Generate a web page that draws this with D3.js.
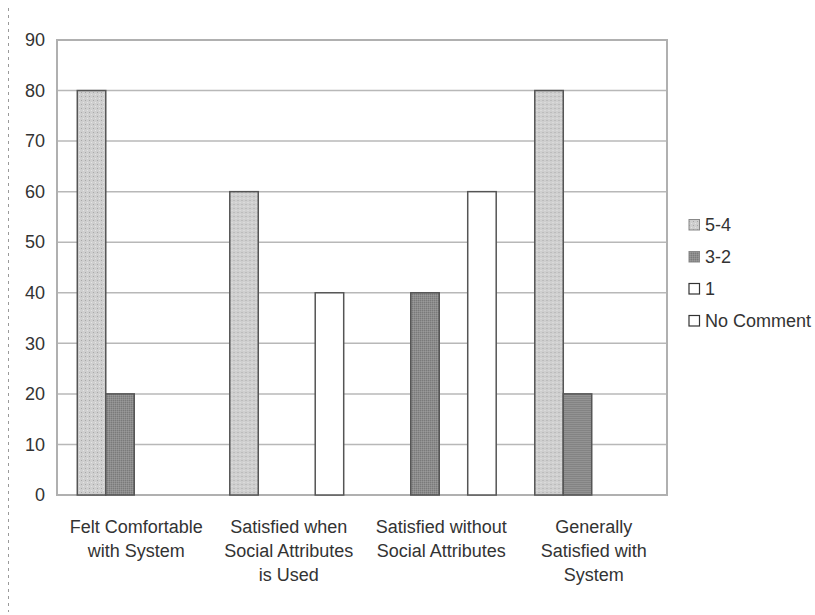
<!DOCTYPE html>
<html>
<head>
<meta charset="utf-8">
<script src="https://cdn.jsdelivr.net/npm/d3@7"></script>
<style>
  html, body { margin: 0; padding: 0; background: #ffffff; }
  svg { display: block; font-family: "Liberation Sans", Arial, sans-serif; }
</style>
</head>
<body>
<svg id="chart" width="815" height="615"></svg>
<script>
// Survey responses per question, grouped by rating bucket
const categories = [
  ["Felt Comfortable", "with System"],
  ["Satisfied when", "Social Attributes", "is Used"],
  ["Satisfied without", "Social Attributes"],
  ["Generally", "Satisfied with", "System"]
];
const seriesNames = ["5-4", "3-2", "1", "No Comment"];
const values54 = [80, 60, 0, 80];
const values32 = [20, 0, 40, 20];
const values1 = [0, 0, 0, 0];
const valuesNoComment = [0, 40, 60, 0];
const yTicks = [0, 10, 20, 30, 40, 50, 60, 70, 80, 90];

const seriesValues = [values54, values32, values1, valuesNoComment];
const fills = ["url(#pat54)", "url(#pat32)", "#ffffff", "#ffffff"];

const svg = d3.select("#chart");
const plot = { left: 57, top: 40, right: 667, bottom: 495 };
const textColor = "#333333";

// Stippled fills for the shaded series
const defs = svg.append("defs");
const p1 = defs.append("pattern").attr("id", "pat54")
  .attr("width", 4).attr("height", 4).attr("patternUnits", "userSpaceOnUse");
p1.append("rect").attr("width", 4).attr("height", 4).attr("fill", "#cfcfcf");
p1.append("rect").attr("x", 0).attr("y", 0).attr("width", 1).attr("height", 1).attr("fill", "#a8a8a8");
p1.append("rect").attr("x", 2).attr("y", 2).attr("width", 1).attr("height", 1).attr("fill", "#e4e4e4");
const p2 = defs.append("pattern").attr("id", "pat32")
  .attr("width", 2).attr("height", 2).attr("patternUnits", "userSpaceOnUse");
p2.append("rect").attr("width", 2).attr("height", 2).attr("fill", "#8c8c8c");
p2.append("rect").attr("x", 0).attr("y", 0).attr("width", 1).attr("height", 1).attr("fill", "#7a7a7a");
p2.append("rect").attr("x", 1).attr("y", 1).attr("width", 1).attr("height", 1).attr("fill", "#999999");

// Dashed frame edge on the far left
svg.append("line")
  .attr("x1", 8.5).attr("x2", 8.5).attr("y1", 8).attr("y2", 612)
  .attr("stroke", "#9a9a9a").attr("stroke-width", 1)
  .attr("stroke-dasharray", "3,4");

const y = d3.scaleLinear().domain([0, 90]).range([plot.bottom, plot.top]);
const x0 = d3.scaleBand().domain(d3.range(categories.length))
  .range([plot.left, plot.right]).padding(0);
const bw = x0.bandwidth();
const x1 = d3.scaleBand().domain(d3.range(seriesNames.length))
  .range([bw * 0.133, bw * 0.88]).padding(0);

// Gridlines
svg.append("g")
  .selectAll("line")
  .data(yTicks.filter(d => d > 0 && d < 90))
  .join("line")
  .attr("x1", plot.left).attr("x2", plot.right)
  .attr("y1", d => y(d)).attr("y2", d => y(d))
  .attr("stroke", "#b8b8b8").attr("stroke-width", 1.5);

// Plot frame
svg.append("rect")
  .attr("x", plot.left).attr("y", plot.top)
  .attr("width", plot.right - plot.left).attr("height", plot.bottom - plot.top)
  .attr("fill", "none").attr("stroke", "#b0b0b0").attr("stroke-width", 2);

// Bars
const groups = svg.append("g").selectAll("g")
  .data(categories.map((c, i) => i))
  .join("g")
  .attr("transform", i => `translate(${x0(i)},0)`);

groups.selectAll("rect")
  .data(i => seriesValues.map((vals, s) => ({ s, v: vals[i] })).filter(d => d.v > 0))
  .join("rect")
  .attr("x", d => x1(d.s))
  .attr("y", d => y(d.v))
  .attr("width", x1.bandwidth())
  .attr("height", d => y(0) - y(d.v))
  .attr("fill", d => fills[d.s])
  .attr("stroke", "#555555")
  .attr("stroke-width", 1.5);

// Y axis tick labels
const yAxis = d3.axisLeft(y).tickValues(yTicks).tickSize(0).tickPadding(12);
const ya = svg.append("g").attr("transform", `translate(${plot.left},0)`).call(yAxis);
ya.select(".domain").remove();
ya.selectAll("text")
  .attr("font-size", 18)
  .attr("font-family", "Liberation Sans, Arial, sans-serif")
  .attr("fill", textColor);

// Category labels
const catG = svg.append("g");
categories.forEach((lines, i) => {
  const t = catG.append("text")
    .attr("text-anchor", "middle")
    .attr("font-size", 18)
    .attr("fill", textColor);
  lines.forEach((ln, k) => {
    t.append("tspan")
      .attr("x", x0(i) + bw / 2 + 3)
      .attr("y", 533 + k * 24)
      .text(ln);
  });
});

// Legend
const legend = svg.append("g").attr("transform", "translate(689,225)");
seriesNames.forEach((name, s) => {
  const g = legend.append("g").attr("transform", `translate(0,${s * 32})`);
  g.append("rect")
    .attr("x", 0).attr("y", -5.5).attr("width", 10.5).attr("height", 10.5)
    .attr("fill", fills[s])
    .attr("stroke", s < 2 ? "#888888" : "#333333")
    .attr("stroke-width", s < 2 ? 1 : 1.2);
  g.append("text")
    .attr("x", 16).attr("y", 0)
    .attr("dy", "0.35em")
    .attr("font-size", 18)
    .attr("fill", textColor)
    .text(name);
});
</script>
</body>
</html>
